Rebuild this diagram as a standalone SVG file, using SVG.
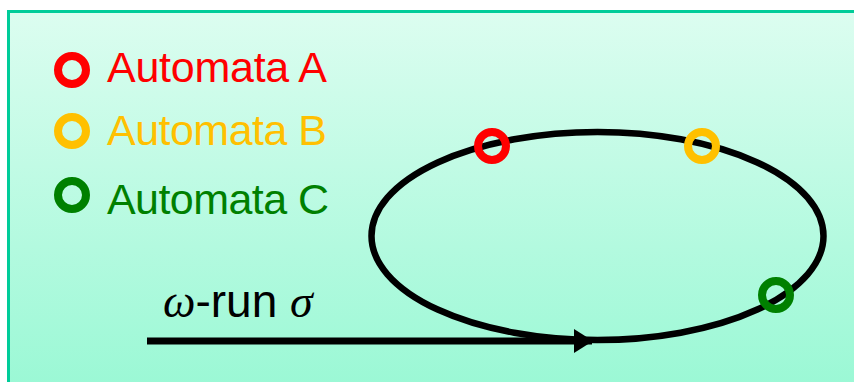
<svg xmlns="http://www.w3.org/2000/svg" width="854" height="382" viewBox="0 0 854 382">
<defs>
<linearGradient id="bg" x1="0" y1="0" x2="0" y2="1">
<stop offset="0" stop-color="#dcfdf0"/>
<stop offset="1" stop-color="#98f8d4"/>
</linearGradient>
<marker id="arr" markerWidth="20" markerHeight="26" refX="18" refY="12" orient="auto" markerUnits="userSpaceOnUse">
<path d="M0,0 L19,12 L0,24 z" fill="#000"/>
</marker>
<style>
.lbl{font-family:"Liberation Sans",Arial,sans-serif;font-size:43px}
.ring{fill:none;stroke-width:8}
.red{stroke:#ff0000}.org{stroke:#ffc000}.grn{stroke:#008000}
</style>
</defs>
<rect x="8.5" y="11.5" width="860" height="390" fill="url(#bg)" stroke="#00cc99" stroke-width="3"/>
<g id="legend-a"><circle class="ring red" cx="72" cy="70" r="14"/><text class="lbl" x="107" y="82" fill="#ff0000" textLength="220">Automata A</text></g>
<g id="legend-b"><circle class="ring org" cx="72" cy="131" r="14"/><text class="lbl" x="107" y="145" fill="#ffc000" textLength="220">Automata B</text></g>
<g id="legend-c"><circle class="ring grn" cx="72" cy="195" r="14"/><text class="lbl" x="107" y="214" fill="#008000" textLength="222">Automata C</text></g>
<g id="connectors">
<ellipse cx="597.5" cy="236" rx="226" ry="104" fill="none" stroke="#000" stroke-width="6.5"/>
<line x1="147" y1="341" x2="592" y2="341" stroke="#000" stroke-width="7" marker-end="url(#arr)"/>
<text x="163" y="317" font-size="46"><tspan font-family="'Liberation Serif',serif" font-style="italic">ω</tspan><tspan font-family="'Liberation Sans',sans-serif">-run </tspan><tspan font-family="'Liberation Serif',serif" font-style="italic">σ</tspan></text>
</g>
<g id="state-a"><circle class="ring red" cx="492" cy="146" r="14"/></g>
<g id="state-b"><circle class="ring org" cx="702" cy="146" r="14"/></g>
<g id="state-c"><circle class="ring grn" cx="776" cy="295" r="14"/></g>
</svg>
